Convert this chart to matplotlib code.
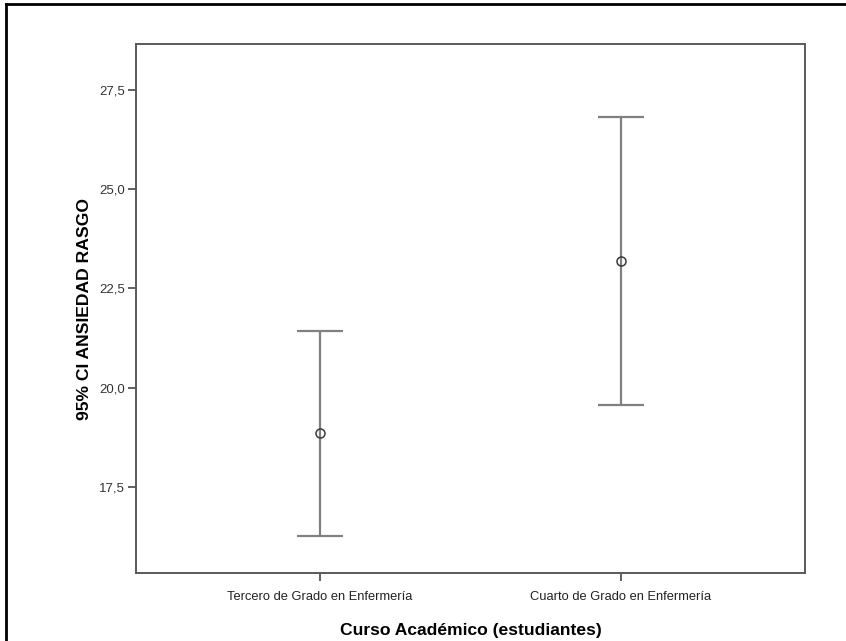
import matplotlib.pyplot as plt
from matplotlib.lines import Line2D

# Datos: media e intervalo de confianza al 95% por curso
cursos = ['Tercero de Grado en Enfermería', 'Cuarto de Grado en Enfermería']
medias = [18.87, 23.19]
ic_inferior = [16.27, 19.57]
ic_superior = [21.43, 26.82]
ticks_y = [17.5, 20.0, 22.5, 25.0, 27.5]

plt.rcParams['font.family'] = ['Liberation Sans', 'DejaVu Sans']

fig = plt.figure(figsize=(8.46, 6.41), dpi=100)
ax = fig.add_axes([136 / 846, 1 - 573 / 641, (805 - 136) / 846, (573 - 44) / 641])

x = [1, 2]
err_bajo = [m - lo for m, lo in zip(medias, ic_inferior)]
err_alto = [hi - m for m, hi in zip(medias, ic_superior)]
ax.errorbar(x, medias, yerr=[err_bajo, err_alto], fmt='none',
            ecolor='#808080', elinewidth=1.6, capsize=16.5, capthick=1.6)
ax.plot(x, medias, 'o', markersize=6.5, markerfacecolor='none',
        markeredgecolor='#3a3a3a', markeredgewidth=1.1)

ax.set_xlim(0.389, 2.611)
ax.set_ylim(15.33, 28.66)
ax.set_xticks(x)
ax.set_xticklabels(cursos, fontsize=9.3, color='#222222')
ax.set_yticks(ticks_y)
ax.set_yticklabels([f'{t:.1f}'.replace('.', ',') for t in ticks_y],
                   fontsize=9.5, color='#333333')
ax.tick_params(axis='both', length=6, width=1.3, color='#555555')
ax.tick_params(axis='x', pad=7)
ax.tick_params(axis='y', pad=2)

for lado in ax.spines.values():
    lado.set_color('#5a5a5a')
    lado.set_linewidth(1.4)

ax.set_xlabel('Curso Académico (estudiantes)', fontsize=12.6, fontweight='bold',
              labelpad=14)
ax.set_ylabel('95% CI ANSIEDAD RASGO', fontsize=12.6, fontweight='bold',
              labelpad=5)

# Marco exterior (solo borde superior e izquierdo)
fig.add_artist(Line2D([6 / 846, 6 / 846], [0, 1 - 4 / 641],
                      transform=fig.transFigure, color='black', linewidth=2))
fig.add_artist(Line2D([6 / 846, 1], [1 - 4 / 641, 1 - 4 / 641],
                      transform=fig.transFigure, color='black', linewidth=2))

fig.savefig('out.png', dpi=100)
